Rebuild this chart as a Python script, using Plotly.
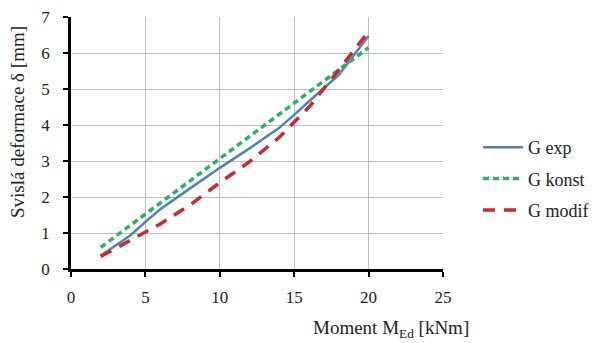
import plotly.graph_objects as go

x_exp = [2, 4, 5, 6, 8, 10, 12, 14, 15, 16, 18, 20]
y_exp = [0.37, 0.94, 1.31, 1.66, 2.24, 2.81, 3.35, 3.92, 4.28, 4.66, 5.39, 6.47]

x_konst = [2, 4, 6, 8, 10, 12, 14, 16, 18, 20]
y_konst = [0.6, 1.22, 1.84, 2.45, 3.07, 3.68, 4.3, 4.92, 5.53, 6.15]

x_modif = [2, 4, 6, 8, 10, 12, 14, 16, 18, 20]
y_modif = [0.35, 0.8, 1.25, 1.78, 2.4, 2.98, 3.66, 4.5, 5.53, 6.6]

x_ticks = [0, 5, 10, 15, 20, 25]
y_ticks = [0, 1, 2, 3, 4, 5, 6, 7]

font = "Liberation Serif, Times New Roman, serif"

# page body has an 8px margin, so the figure is laid out 8px smaller / shifted
OFF = 8
W, H = 599 - OFF, 343 - OFF
L, T = 71 - OFF, 17 - OFF
PW, PH = 372, 252  # plot area size
R, B = W - L - PW, H - T - PH

fig = go.Figure()
fig.add_trace(go.Scatter(x=x_exp, y=y_exp, mode="lines", name="G exp", legendgroup="a",
                         line=dict(color="#4F81BD", width=2.5)))
fig.add_trace(go.Scatter(x=x_konst, y=y_konst, mode="lines", name="G konst", legendgroup="b",
                         line=dict(color="#2DB35F", width=3.5, dash="6px,4px")))
fig.add_trace(go.Scatter(x=x_modif, y=y_modif, mode="lines", name="G modif", legendgroup="c",
                         line=dict(color="#D0262E", width=3.5, dash="12px,9px")))

fig.update_layout(
    width=W, height=H,
    margin=dict(l=L, r=R, t=T, b=B, autoexpand=False),
    plot_bgcolor="white", paper_bgcolor="white",
    font=dict(family=font, size=17, color="#222"),
    showlegend=True,
    legend=dict(x=(478 - 71) / PW, y=(269 - 129) / PH, xanchor="left", yanchor="top",
                font=dict(family=font, size=18, color="#222"),
                tracegroupgap=5, itemwidth=40,
                bgcolor="rgba(0,0,0,0)"),
    xaxis=dict(range=[0, 25], tickvals=x_ticks, showgrid=True,
               gridcolor="#BDBDBD", gridwidth=1, zeroline=False,
               showline=True, linecolor="black", linewidth=2.5,
               ticks="outside", ticklen=5, tickwidth=2, tickcolor="black",
               ticklabelstandoff=6, ticklabeloverflow="allow",
               tickfont=dict(family=font, size=17)),
    yaxis=dict(range=[0, 7], tickvals=y_ticks, showgrid=True,
               gridcolor="#BDBDBD", gridwidth=1, zeroline=False,
               showline=True, linecolor="black", linewidth=2.5,
               ticks="outside", ticklen=5, tickwidth=2, tickcolor="black",
               ticklabelstandoff=10, ticklabeloverflow="allow",
               tickfont=dict(family=font, size=17)),
    annotations=[
        dict(text="Moment M<sub>Ed</sub> [kNm]", xref="paper", yref="paper",
             x=(391 - 71) / PW, y=-(329 - 269) / PH, xanchor="center",
             yanchor="middle", showarrow=False,
             font=dict(family=font, size=19, color="#222")),
        dict(text="Svislá deformace δ [mm]", xref="paper", yref="paper",
             x=-(71 - 18) / PW, y=(269 - 122) / PH, xanchor="center",
             yanchor="middle", textangle=-90, showarrow=False,
             font=dict(family=font, size=19, color="#222")),
    ],
)

fig.write_html("out.html")
